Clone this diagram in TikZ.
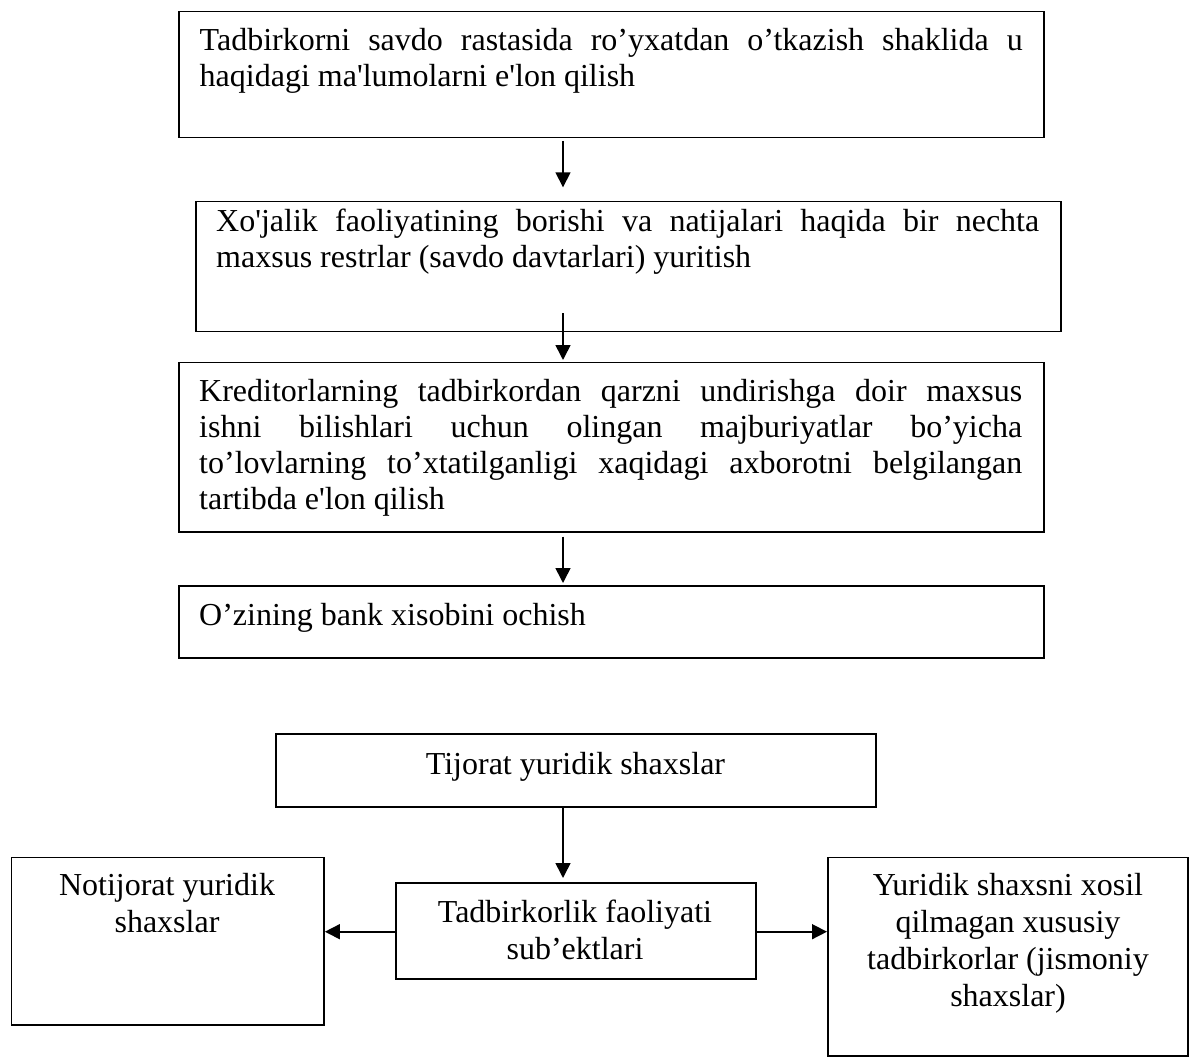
\documentclass[tikz,border=0pt]{standalone}
\usepackage{fontspec}
\setmainfont{Liberation Serif}[Ligatures=TeXOff]
\usetikzlibrary{arrows.meta,calc}
\begin{document}
\begin{tikzpicture}[x=1pt,y=-1pt,
  box/.style={draw=black,line width=1.6pt,rectangle,inner sep=0pt,anchor=north west},
  jtxt/.style={inner sep=0pt,anchor=north west,text width=823pt,align=justify,
     font=\fontsize{32}{36}\selectfont},
  ctxt/.style={inner sep=0pt,anchor=north,align=center,
     font=\fontsize{32}{36.8}\selectfont},
  arr/.style={line width=1.6pt,-{Triangle[length=15pt,width=15pt]}}]
\useasboundingbox (0,0) rectangle (1192,1062);
\hyphenpenalty=10000
% top chain
\node[box,minimum width=865pt,minimum height=126pt] (b1) at (178.3,10.7) {};
\node[box,minimum width=865pt,minimum height=130pt] (b2) at (195,200.7) {};
\node[box,minimum width=865pt,minimum height=169.3pt] (b3) at (178,361.7) {};
\node[box,minimum width=865pt,minimum height=72pt] (b4) at (178,585) {};
\node[jtxt] (t1) at (199.5,24.8) {\hyphenpenalty=10000\strut Tadbirkorni savdo rastasida ro’yxatdan o’tkazish shaklida u\linebreak haqidagi ma'lumolarni e'lon qilish};
\node[jtxt] (t2) at (216,206.5) {\hyphenpenalty=10000\strut Xo'jalik faoliyatining borishi va natijalari haqida bir nechta\linebreak maxsus restrlar (savdo davtarlari) yuritish};
\node[jtxt] (t3) at (199,376.5) {\hyphenpenalty=10000\strut Kreditorlarning tadbirkordan qarzni undirishga doir maxsus\linebreak ishni bilishlari uchun olingan majburiyatlar bo’yicha\linebreak to’lovlarning to’xtatilganligi xaqidagi axborotni belgilangan\linebreak tartibda e'lon qilish};
\node[jtxt] (t4) at (199,599.8) {\strut O’zining bank xisobini ochish};
\coordinate (ax) at (563,0);
\draw[arr] ([yshift=-2.6pt]b1.south -| ax) -- ([yshift=13.4pt]b2.north -| ax);
\draw[arr] ([yshift=19pt]b2.south -| ax) -- ([yshift=1.7pt]b3.north -| ax);
\draw[arr] ([yshift=-4pt]b3.south -| ax) -- ([yshift=2pt]b4.north -| ax);
% bottom part
\node[box,minimum width=600.3pt,minimum height=72.7pt] (b5) at (275,733.3) {};
\node[box,minimum width=360pt,minimum height=96pt] (b6) at (395,882.3) {};
\node[box,minimum width=312.6pt,minimum height=167.6pt] (b7) at (10.7,856.7) {};
\node[box,minimum width=360pt,minimum height=198.3pt] (b8) at (827,856.7) {};
\node[ctxt] (t5) at (575.5,748.8) {\strut Tijorat yuridik shaxslar};
\node[ctxt] (t6) at (575,896.5) {\strut Tadbirkorlik faoliyati\\ sub’ektlari};
\node[ctxt] (t7) at (167,869.8) {\strut Notijorat yuridik\\ shaxslar};
\node[ctxt] (t8) at (1008,869.8) {\strut Yuridik shaxsni xosil\\ qilmagan xususiy\\ tadbirkorlar (jismoniy\\ shaxslar)};
\draw[arr] (b5.south -| ax) -- ([yshift=4.3pt]b6.north -| ax);
\coordinate (ay) at (0,931.7);
\draw[arr] (b6.west |- ay) -- (b7.east |- ay);
\draw[arr] (b6.east |- ay) -- (b8.west |- ay);
\end{tikzpicture}
\end{document}
